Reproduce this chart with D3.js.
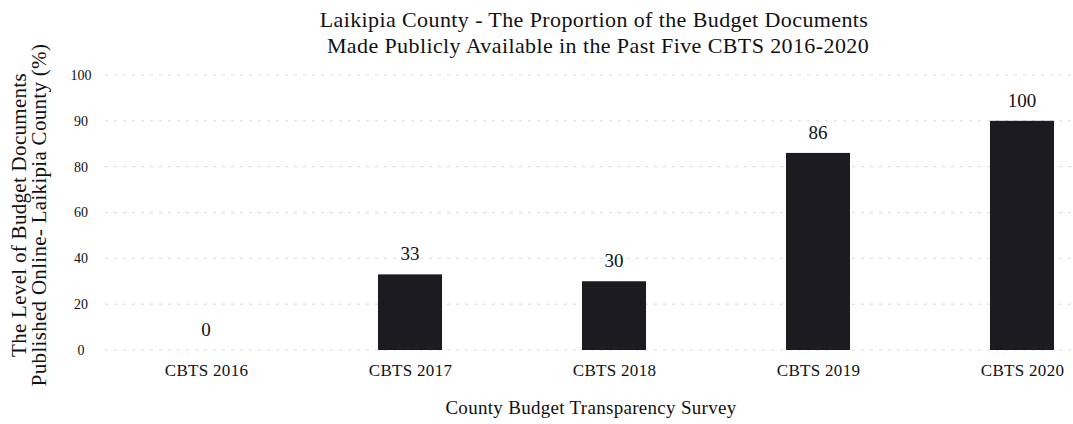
<!DOCTYPE html>
<html>
<head>
<meta charset="utf-8">
<script src="https://cdn.jsdelivr.net/npm/d3@7"></script>
<style>
  body { margin: 0; background: #fff; }
  svg { font-family: "Liberation Serif", "DejaVu Serif", serif; }
</style>
</head>
<body>
<svg width="1073" height="424"></svg>
<script>
"use strict";

// data
const surveys = ["CBTS 2016", "CBTS 2017", "CBTS 2018", "CBTS 2019", "CBTS 2020"];
const scores = [0, 33, 30, 86, 100];
// gridline positions and the labels the original printed at them
const gridValues = [0, 20, 40, 60, 80, 100, 120];
const gridLabels = ["0", "20", "40", "60", "80", "90", "100"];

const svg = d3.select("svg");
const W = 1073, H = 424;

const x = d3.scalePoint().domain(surveys).range([206, 1022]);
const y = d3.scaleLinear().domain([0, 120]).range([350, 75]);
const barWidth = 64;

// gridlines
svg.append("g")
  .selectAll("line")
  .data(gridValues)
  .join("line")
  .attr("x1", 105)
  .attr("x2", W)
  .attr("y1", d => y(d))
  .attr("y2", d => y(d))
  .attr("stroke", "#dadada")
  .attr("stroke-dasharray", "3,6");

// y axis, labels only
const yAxis = d3.axisLeft(y)
  .tickValues(gridValues)
  .tickSize(0)
  .tickFormat((d, i) => gridLabels[i]);
svg.append("g")
  .attr("transform", "translate(92,0)")
  .call(yAxis)
  .call(g => g.select(".domain").remove())
  .call(g => g.selectAll("text")
    .attr("font-family", "Liberation Serif, serif")
    .attr("font-size", 14)
    .attr("fill", "#111")
    .attr("text-anchor", "middle")
    .attr("x", -11));

// bars
svg.append("g")
  .selectAll("rect")
  .data(scores)
  .join("rect")
  .attr("x", (d, i) => x(surveys[i]) - barWidth / 2)
  .attr("y", d => y(d))
  .attr("width", barWidth)
  .attr("height", d => y(0) - y(d))
  .attr("fill", "#1b1b20");

// value labels
svg.append("g")
  .selectAll("text")
  .data(scores)
  .join("text")
  .attr("x", (d, i) => x(surveys[i]))
  .attr("y", d => y(d) - 14)
  .attr("text-anchor", "middle")
  .attr("font-size", 19)
  .attr("fill", "#111")
  .text(d => d);

// x axis, labels only
const xAxis = d3.axisBottom(x).tickSize(0).tickPadding(0);
svg.append("g")
  .attr("transform", "translate(0,364)")
  .call(xAxis)
  .call(g => g.select(".domain").remove())
  .call(g => g.selectAll("text")
    .attr("font-family", "Liberation Serif, serif")
    .attr("font-size", 17)
    .attr("letter-spacing", 0.3)
    .attr("fill", "#111"));

// title
const title = svg.append("text")
  .attr("text-anchor", "middle")
  .attr("font-size", 22)
  .attr("letter-spacing", 0.4)
  .attr("fill", "#111");
title.append("tspan").attr("x", 594).attr("y", 27)
  .text("Laikipia County - The Proportion of the Budget Documents");
title.append("tspan").attr("x", 598).attr("y", 53)
  .text("Made Publicly Available in the Past Five CBTS 2016-2020");

// axis titles
svg.append("text")
  .attr("x", 591)
  .attr("y", 414)
  .attr("text-anchor", "middle")
  .attr("font-size", 19)
  .attr("letter-spacing", 0.3)
  .attr("fill", "#111")
  .text("County Budget Transparency Survey");

const yTitle = svg.append("text")
  .attr("transform", "translate(0,215) rotate(-90)")
  .attr("text-anchor", "middle")
  .attr("font-size", 21)
  .attr("letter-spacing", 0.3)
  .attr("fill", "#111");
yTitle.append("tspan").attr("x", 0).attr("y", 26).text("The Level of Budget Documents");
yTitle.append("tspan").attr("x", 0).attr("y", 46).text("Published Online- Laikipia County (%)");
</script>
</body>
</html>
